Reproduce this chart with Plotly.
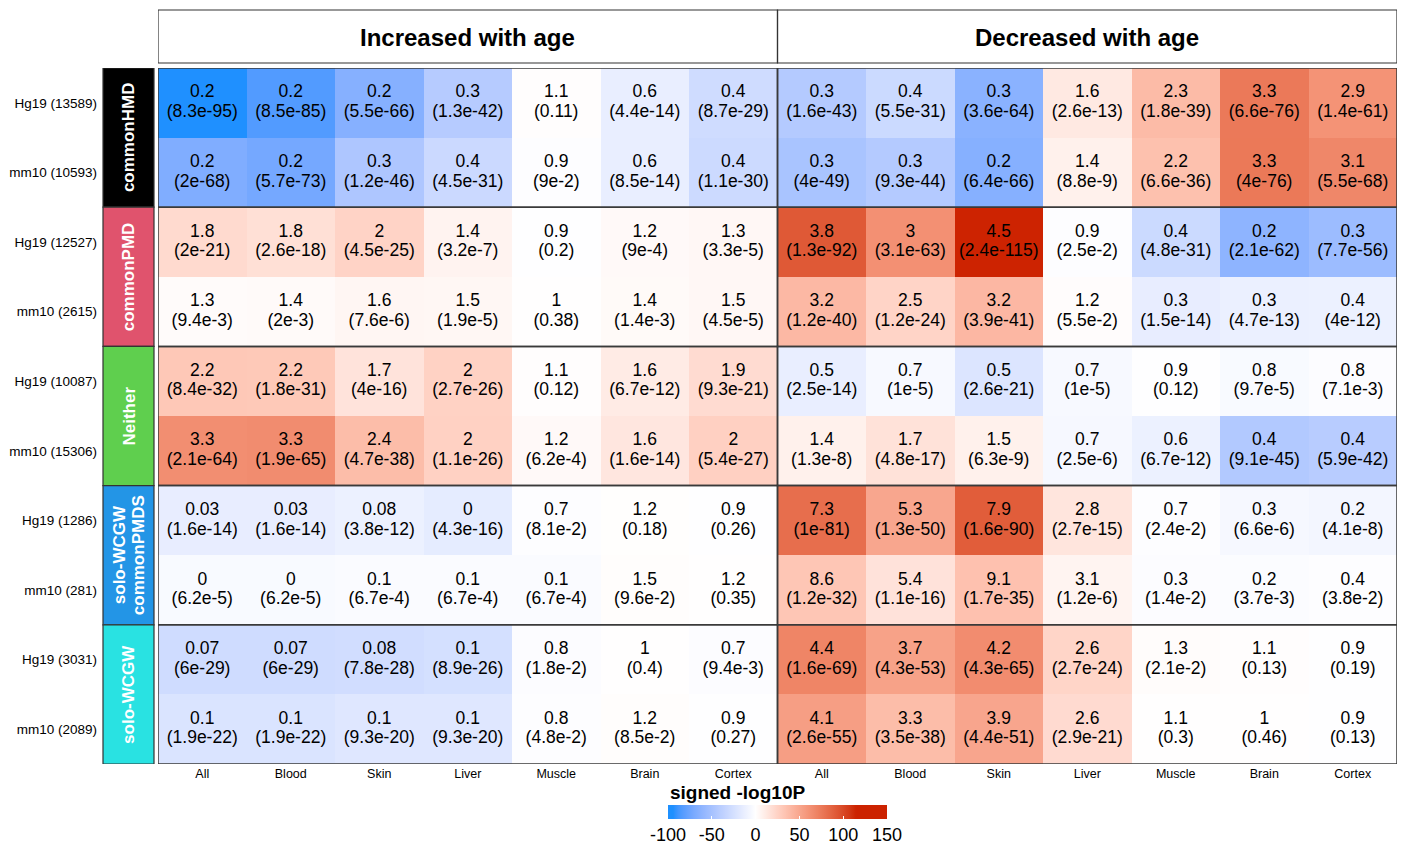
import numpy as np
import plotly.graph_objects as go

# ---------------- data ----------------
col_groups = ["Increased with age", "Decreased with age"]
tissues = ["All", "Blood", "Skin", "Liver", "Muscle", "Brain", "Cortex"]
row_groups = ["commonHMD", "commonPMD", "Neither", "solo-WCGW<br>commonPMDS", "solo-WCGW"]
row_group_colors = ["#000000", "#E0536D", "#5FCF4E", "#2395E6", "#29E2E2"]
row_labels = ["Hg19 (13589)", "mm10 (10593)", "Hg19 (12527)", "mm10 (2615)",
              "Hg19 (10087)", "mm10 (15306)", "Hg19 (1286)", "mm10 (281)",
              "Hg19 (3031)", "mm10 (2089)"]

odds_ratio = [
    ["0.2", "0.2", "0.2", "0.3", "1.1", "0.6", "0.4", "0.3", "0.4", "0.3", "1.6", "2.3", "3.3", "2.9"],
    ["0.2", "0.2", "0.3", "0.4", "0.9", "0.6", "0.4", "0.3", "0.3", "0.2", "1.4", "2.2", "3.3", "3.1"],
    ["1.8", "1.8", "2", "1.4", "0.9", "1.2", "1.3", "3.8", "3", "4.5", "0.9", "0.4", "0.2", "0.3"],
    ["1.3", "1.4", "1.6", "1.5", "1", "1.4", "1.5", "3.2", "2.5", "3.2", "1.2", "0.3", "0.3", "0.4"],
    ["2.2", "2.2", "1.7", "2", "1.1", "1.6", "1.9", "0.5", "0.7", "0.5", "0.7", "0.9", "0.8", "0.8"],
    ["3.3", "3.3", "2.4", "2", "1.2", "1.6", "2", "1.4", "1.7", "1.5", "0.7", "0.6", "0.4", "0.4"],
    ["0.03", "0.03", "0.08", "0", "0.7", "1.2", "0.9", "7.3", "5.3", "7.9", "2.8", "0.7", "0.3", "0.2"],
    ["0", "0", "0.1", "0.1", "0.1", "1.5", "1.2", "8.6", "5.4", "9.1", "3.1", "0.3", "0.2", "0.4"],
    ["0.07", "0.07", "0.08", "0.1", "0.8", "1", "0.7", "4.4", "3.7", "4.2", "2.6", "1.3", "1.1", "0.9"],
    ["0.1", "0.1", "0.1", "0.1", "0.8", "1.2", "0.9", "4.1", "3.3", "3.9", "2.6", "1.1", "1", "0.9"],
]
p_value = [
    ["8.3e-95", "8.5e-85", "5.5e-66", "1.3e-42", "0.11", "4.4e-14", "8.7e-29", "1.6e-43", "5.5e-31", "3.6e-64", "2.6e-13", "1.8e-39", "6.6e-76", "1.4e-61"],
    ["2e-68", "5.7e-73", "1.2e-46", "4.5e-31", "9e-2", "8.5e-14", "1.1e-30", "4e-49", "9.3e-44", "6.4e-66", "8.8e-9", "6.6e-36", "4e-76", "5.5e-68"],
    ["2e-21", "2.6e-18", "4.5e-25", "3.2e-7", "0.2", "9e-4", "3.3e-5", "1.3e-92", "3.1e-63", "2.4e-115", "2.5e-2", "4.8e-31", "2.1e-62", "7.7e-56"],
    ["9.4e-3", "2e-3", "7.6e-6", "1.9e-5", "0.38", "1.4e-3", "4.5e-5", "1.2e-40", "1.2e-24", "3.9e-41", "5.5e-2", "1.5e-14", "4.7e-13", "4e-12"],
    ["8.4e-32", "1.8e-31", "4e-16", "2.7e-26", "0.12", "6.7e-12", "9.3e-21", "2.5e-14", "1e-5", "2.6e-21", "1e-5", "0.12", "9.7e-5", "7.1e-3"],
    ["2.1e-64", "1.9e-65", "4.7e-38", "1.1e-26", "6.2e-4", "1.6e-14", "5.4e-27", "1.3e-8", "4.8e-17", "6.3e-9", "2.5e-6", "6.7e-12", "9.1e-45", "5.9e-42"],
    ["1.6e-14", "1.6e-14", "3.8e-12", "4.3e-16", "8.1e-2", "0.18", "0.26", "1e-81", "1.3e-50", "1.6e-90", "2.7e-15", "2.4e-2", "6.6e-6", "4.1e-8"],
    ["6.2e-5", "6.2e-5", "6.7e-4", "6.7e-4", "6.7e-4", "9.6e-2", "0.35", "1.2e-32", "1.1e-16", "1.7e-35", "1.2e-6", "1.4e-2", "3.7e-3", "3.8e-2"],
    ["6e-29", "6e-29", "7.8e-28", "8.9e-26", "1.8e-2", "0.4", "9.4e-3", "1.6e-69", "4.3e-53", "4.3e-65", "2.7e-24", "2.1e-2", "0.13", "0.19"],
    ["1.9e-22", "1.9e-22", "9.3e-20", "9.3e-20", "4.8e-2", "8.5e-2", "0.27", "2.6e-55", "3.5e-38", "4.4e-51", "2.9e-21", "0.3", "0.46", "0.13"],
]
colorbar_ticks = [-100, -50, 0, 50, 100, 150]

# ---------------- derived ----------------
n_rows = len(row_labels)
n_cols = len(col_groups) * len(tissues)
OR = np.array([[float(v) for v in r] for r in odds_ratio])
P = np.array([[float(v) for v in r] for r in p_value])
Z = np.where(OR >= 1, 1.0, -1.0) * -np.log10(P)

# LAB-space colour ramp (data min -> blue, 0 -> white, data max -> red)
def _to_lab(h):
    rgb = np.array([int(h[i:i + 2], 16) for i in (1, 3, 5)]) / 255.0
    lin = np.where(rgb <= 0.04045, rgb / 12.92, ((rgb + 0.055) / 1.055) ** 2.4)
    M = np.array([[0.4124, 0.3576, 0.1805], [0.2126, 0.7152, 0.0722], [0.0193, 0.1192, 0.9505]])
    xyz = M @ lin / np.array([0.95047, 1.0, 1.08883])
    f = np.where(xyz > 0.008856, np.cbrt(xyz), 7.787 * xyz + 16 / 116)
    return np.array([116 * f[1] - 16, 500 * (f[0] - f[1]), 200 * (f[1] - f[2])])

def _from_lab(lab):
    fy = (lab[0] + 16) / 116
    fx = fy + lab[1] / 500
    fz = fy - lab[2] / 200
    f = np.array([fx, fy, fz])
    xyz = np.where(f ** 3 > 0.008856, f ** 3, (f - 16 / 116) / 7.787) * np.array([0.95047, 1.0, 1.08883])
    Mi = np.array([[3.2406, -1.5372, -0.4986], [-0.9689, 1.8758, 0.0415], [0.0557, -0.2040, 1.0570]])
    lin = np.clip(Mi @ xyz, 0, 1)
    rgb = np.where(lin <= 0.0031308, 12.92 * lin, 1.055 * lin ** (1 / 2.4) - 0.055)
    r, g, b = (np.clip(rgb, 0, 1) * 255).round().astype(int)
    return f"rgb({r},{g},{b})"

brk = [(float(Z.min()), "#1E90FF"), (0.0, "#FFFFFF"), (float(Z.max()), "#CC2200")]
zmin, zmax = colorbar_ticks[0], colorbar_ticks[-1]
cscale = []
for v in np.linspace(zmin, zmax, 126):
    vv = min(max(v, brk[0][0]), brk[-1][0])
    for (a, ca), (b, cb) in zip(brk[:-1], brk[1:]):
        if a <= vv <= b:
            t = (vv - a) / (b - a)
            col = _from_lab(_to_lab(ca) * (1 - t) + _to_lab(cb) * t)
            break
    cscale.append([(v - zmin) / (zmax - zmin), col])

# page geometry (body margin removed in the page script below)
W, H = 1402, 845
def px(x):
    return x / W
def py(y):
    return 1 - y / H

FONT = "Liberation Sans, Arial, Helvetica, sans-serif"
ROW_PX = (764 - 68) / n_rows
line_off = 9.75 / ROW_PX  # half line spacing in row units

fig = go.Figure()
fig.add_trace(go.Heatmap(
    z=Z, x=list(range(n_cols)), y=list(range(n_rows)),
    zmin=zmin, zmax=zmax, colorscale=cscale,
    hoverinfo="skip", xgap=0, ygap=0,
    colorbar=dict(
        orientation="h", x=px(777.5), xanchor="center", y=py(805), yanchor="top",
        len=219, lenmode="pixels", thickness=14, thicknessmode="pixels",
        xpad=0, ypad=0, outlinewidth=0,
        tickvals=colorbar_ticks, ticktext=[str(t) for t in colorbar_ticks],
        ticks="inside", ticklen=3, tickcolor="white", tickwidth=1,
        tickfont=dict(family=FONT, size=18, color="black"),
    ),
))

gx, gy = np.meshgrid(np.arange(n_cols), np.arange(n_rows))
fig.add_trace(go.Scatter(
    x=gx.ravel(), y=gy.ravel() - line_off, mode="text",
    text=[v for r in odds_ratio for v in r],
    textfont=dict(family=FONT, size=17.5, color="black"),
    hoverinfo="skip", showlegend=False))
fig.add_trace(go.Scatter(
    x=gx.ravel(), y=gy.ravel() + line_off, mode="text",
    text=[f"({v})" for r in p_value for v in r],
    textfont=dict(family=FONT, size=17.5, color="black"),
    hoverinfo="skip", showlegend=False))

shapes = []
annotations = []
nt = len(tissues)
row_group_sizes = [2] * len(row_groups)
starts = np.cumsum([0] + row_group_sizes)
for g, name in enumerate(col_groups):
    c0, c1 = g * nt - 0.5, (g + 1) * nt - 0.5
    shapes.append(dict(type="rect", xref="x", yref="paper", x0=c0, x1=c1,
                       y0=py(63), y1=py(10), line=dict(color="#333333", width=1.2),
                       fillcolor="rgba(0,0,0,0)"))
    annotations.append(dict(xref="x", yref="paper", x=(c0 + c1) / 2, y=py(37),
                            xanchor="center", yanchor="middle",
                            text=f"<b>{name}</b>", showarrow=False,
                            font=dict(family=FONT, size=24, color="black")))
    for k in range(len(row_groups)):
        shapes.append(dict(type="rect", xref="x", yref="y", x0=c0, x1=c1,
                           y0=starts[k] - 0.5, y1=starts[k + 1] - 0.5,
                           line=dict(color="#3a3a3a", width=1.5), fillcolor="rgba(0,0,0,0)"))
# row group annotation bars
for k, (name, colr) in enumerate(zip(row_groups, row_group_colors)):
    shapes.append(dict(type="rect", xref="paper", yref="y", x0=px(103), x1=px(154),
                       y0=starts[k] - 0.5, y1=starts[k + 1] - 0.5,
                       line=dict(color="#333333", width=1.2), fillcolor=colr))
    lines = name.split("<br>")
    nl = len(lines)
    for li, ln in enumerate(lines):
        xc = 128.5 + (li - (nl - 1) / 2) * 19
        annotations.append(dict(xref="paper", yref="y", x=px(xc), y=(starts[k] + starts[k + 1] - 1) / 2,
                                xanchor="center", yanchor="middle",
                                text=f"<b>{ln}</b>", showarrow=False, textangle=-90,
                                font=dict(family=FONT, size=17, color="white")))
# colour bar title
annotations.append(dict(xref="paper", yref="paper", x=px(668), y=py(792),
                        xanchor="left", yanchor="middle", showarrow=False,
                        text="<b>signed -log10P</b>",
                        font=dict(family=FONT, size=19, color="black")))

fig.update_layout(
    width=W, height=H, margin=dict(l=0, r=0, t=0, b=0, autoexpand=False),
    paper_bgcolor="white", plot_bgcolor="white",
    font=dict(family=FONT, color="black"),
    shapes=shapes, annotations=annotations, showlegend=False,
    xaxis=dict(domain=[px(158), px(1397)], range=[-0.5, n_cols - 0.5],
               tickvals=list(range(n_cols)), ticktext=tissues * len(col_groups),
               tickfont=dict(family=FONT, size=12.5, color="black"),
               showgrid=False, zeroline=False, ticks="", ticklabelstandoff=0,
               automargin=False),
    yaxis=dict(domain=[py(764), py(68)], range=[n_rows - 0.5, -0.5],
               tickvals=list(range(n_rows)), ticktext=row_labels,
               tickfont=dict(family=FONT, size=13.5, color="black"),
               showgrid=False, zeroline=False, ticks="", ticklabelstandoff=60,
               automargin=False),
)
fig.write_html("out.html", config={"displayModeBar": False},
               post_script="document.body.style.margin='0';document.body.style.overflow='hidden';")
